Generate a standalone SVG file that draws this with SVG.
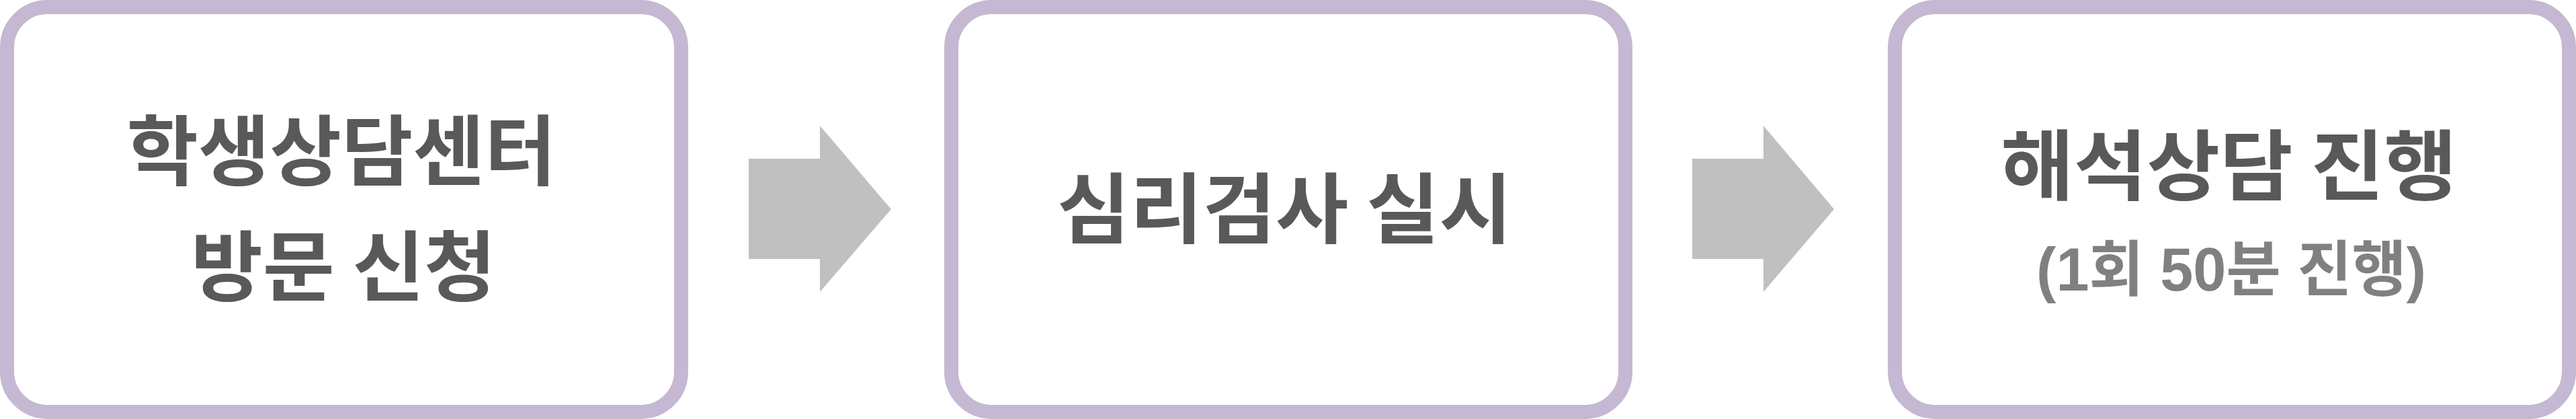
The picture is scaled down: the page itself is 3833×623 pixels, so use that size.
<svg xmlns="http://www.w3.org/2000/svg" width="3833" height="623" viewBox="0 0 3833 623">
<style>
.box{fill:#FFFFFF;stroke:#C4B8D3;stroke-width:21}
.arrow{fill:#C0C0C0}
.t{font-family:"Noto Sans CJK KR","Noto Sans",sans-serif;font-weight:bold;font-size:114px;fill:#595959;text-anchor:middle}
.s{font-family:"Liberation Sans","Noto Sans CJK KR",sans-serif;font-weight:bold;font-size:90px;fill:#808080;text-anchor:middle}
</style>
<rect width="3833" height="623" fill="#FFFFFF"/>
<g id="connectors">
<polygon class="arrow" points="1114,236 1220,236 1220,187 1326,311 1220,434 1220,385 1114,385"/>
<polygon class="arrow" points="2518,236 2624,236 2624,187 2729,311 2624,434 2624,385 2518,385"/>
</g>
<g id="node1">
<rect class="box" x="10.5" y="10.5" width="1003" height="602" rx="60"/>
<text class="t" x="508" y="266" textLength="639" lengthAdjust="spacingAndGlyphs">학생상담센터</text>
<text class="t" x="511" y="438" textLength="454" lengthAdjust="spacingAndGlyphs">방문 신청</text>
</g>
<g id="node2">
<rect class="box" x="1415.5" y="10.5" width="1003" height="602" rx="60"/>
<text class="t" x="1911.5" y="352" textLength="677" lengthAdjust="spacingAndGlyphs">심리검사 실시</text>
</g>
<g id="node3">
<rect class="box" x="2819.5" y="10.5" width="1003" height="602" rx="60"/>
<text class="t" x="3316.5" y="288" textLength="679" lengthAdjust="spacingAndGlyphs">해석상담 진행</text>
<text class="s" x="3320" y="432" textLength="580" lengthAdjust="spacingAndGlyphs">(1회 50분 진행)</text>
</g>
</svg>
